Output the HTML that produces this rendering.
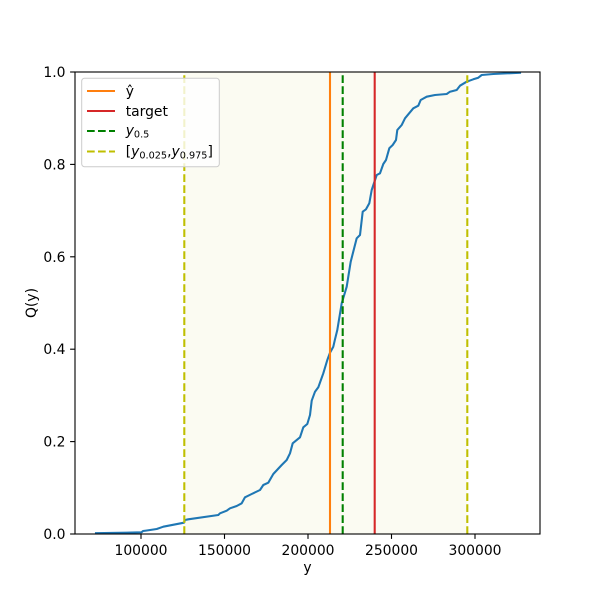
<!DOCTYPE html>
<html><head><meta charset="utf-8"><style>
html,body{margin:0;padding:0;background:#fff;}
svg{display:block;}
text{font-family:"DejaVu Sans","Liberation Sans",sans-serif;fill:#000;}
</style></head><body>
<svg width="600" height="600" viewBox="0 0 600 600" xmlns="http://www.w3.org/2000/svg">
<defs><clipPath id="ax"><rect x="75" y="72" width="465" height="462"/></clipPath></defs>
<rect x="0" y="0" width="600" height="600" fill="#fff"/>
<!-- shaded interval -->
<rect x="184.3" y="72" width="283" height="462" fill="#fbfbf2"/>
<g clip-path="url(#ax)">
<path d="M96,533.2 L120,532.8 L141.5,532.3 L143,531 L146,530.6 L156.7,529 L163.3,526.7 L184,522.7 L185,520 L188.3,519.3 L218.3,515 L220,513.3 L226.7,510.7 L230,508.3 L236.7,506 L241.7,503.3 L245,497.3 L251.7,494 L260,490 L263.3,485 L268.3,482.7 L273.3,474 L281.7,465 L286.7,460 L290,453.3 L292.7,443.3 L300,437.3 L303.3,427.3 L307.3,424 L310,415 L311.7,400.7 L315,391.7 L318.3,387.3 L323.3,373.3 L327.3,360 L330,352.7 L333.3,346.7 L335,339.3 L337.3,330 L341.7,303.3 L346.7,286.7 L350.7,261.7 L356.7,238.3 L360,235 L362.7,211.7 L366,209.3 L369.3,203.3 L371.7,190 L376.7,175 L380,173.3 L383.3,164 L386,160 L389.3,148.3 L392.7,145 L396,140 L397.3,130 L401.7,125 L405,118.3 L408.3,114.3 L413.3,108.3 L418.3,105.7 L420.7,100 L426.7,96.7 L435,95 L446.7,94 L450,91.7 L456.7,90 L460,85.7 L466.7,81.7 L473.3,79.3 L478.3,77.7 L481.7,75 L493.3,74 L520,72.7" fill="none" stroke="#1f77b4" stroke-width="2.08" stroke-linejoin="round" stroke-linecap="square"/>
<line x1="330" y1="534" x2="330" y2="72" stroke="#ff7f0e" stroke-width="2.08"/>
<line x1="374.7" y1="534" x2="374.7" y2="72" stroke="#d62728" stroke-width="2.08"/>
<line x1="342.7" y1="534" x2="342.7" y2="72" stroke="#008000" stroke-width="2.08" stroke-dasharray="7.7,3.3"/>
<line x1="184.3" y1="534" x2="184.3" y2="72" stroke="#bfbf00" stroke-width="2.08" stroke-dasharray="7.7,3.3"/>
<line x1="467.3" y1="534" x2="467.3" y2="72" stroke="#bfbf00" stroke-width="2.08" stroke-dasharray="7.7,3.3"/>
</g>
<!-- spines -->
<rect x="75" y="72" width="465" height="462" fill="none" stroke="#000" stroke-width="1.11"/>
<!-- x ticks -->
<g stroke="#000" stroke-width="1.11">
<line x1="141" y1="534" x2="141" y2="538.9"/>
<line x1="224.5" y1="534" x2="224.5" y2="538.9"/>
<line x1="308" y1="534" x2="308" y2="538.9"/>
<line x1="391.5" y1="534" x2="391.5" y2="538.9"/>
<line x1="475" y1="534" x2="475" y2="538.9"/>
<line x1="70.1" y1="534" x2="75" y2="534"/>
<line x1="70.1" y1="441.6" x2="75" y2="441.6"/>
<line x1="70.1" y1="349.2" x2="75" y2="349.2"/>
<line x1="70.1" y1="256.8" x2="75" y2="256.8"/>
<line x1="70.1" y1="164.4" x2="75" y2="164.4"/>
<line x1="70.1" y1="72" x2="75" y2="72"/>
</g>
<g font-size="13.9" text-anchor="middle">
<text x="141" y="555">100000</text>
<text x="224.5" y="555">150000</text>
<text x="308" y="555">200000</text>
<text x="391.5" y="555">250000</text>
<text x="475" y="555">300000</text>
<text x="307.5" y="572">y</text>
</g>
<g font-size="13.9" text-anchor="end">
<text x="65.5" y="539">0.0</text>
<text x="65.5" y="446.6">0.2</text>
<text x="65.5" y="354.2">0.4</text>
<text x="65.5" y="261.8">0.6</text>
<text x="65.5" y="169.4">0.8</text>
<text x="65.5" y="77">1.0</text>
</g>
<text font-size="13.9" text-anchor="middle" transform="translate(36,303) rotate(-90)">Q(y)</text>
<!-- legend -->
<rect x="81.7" y="78.3" width="137.6" height="88.4" rx="2.8" fill="#fff" fill-opacity="0.8" stroke="#cccccc" stroke-width="1"/>
<line x1="87" y1="91" x2="115" y2="91" stroke="#ff7f0e" stroke-width="2.08"/>
<line x1="87" y1="111" x2="115" y2="111" stroke="#d62728" stroke-width="2.08"/>
<line x1="87" y1="131" x2="115" y2="131" stroke="#008000" stroke-width="2.08" stroke-dasharray="7.7,3.3"/>
<line x1="87" y1="151.5" x2="115" y2="151.5" stroke="#bfbf00" stroke-width="2.08" stroke-dasharray="7.7,3.3"/>
<g font-size="13.9">
<text x="125.7" y="96">ŷ</text>
<text x="125.7" y="116">target</text>
<text x="125.7" y="135"><tspan font-style="italic">y</tspan><tspan font-size="9.7" dy="2.5">0.5</tspan></text>
<text x="125.7" y="156">[<tspan font-style="italic">y</tspan><tspan font-size="9.7" dy="2.5">0.025</tspan><tspan dy="-2.5">,</tspan><tspan font-style="italic">y</tspan><tspan font-size="9.7" dy="2.5">0.975</tspan><tspan dy="-2.5">]</tspan></text>
</g>
</svg>
</body></html>
